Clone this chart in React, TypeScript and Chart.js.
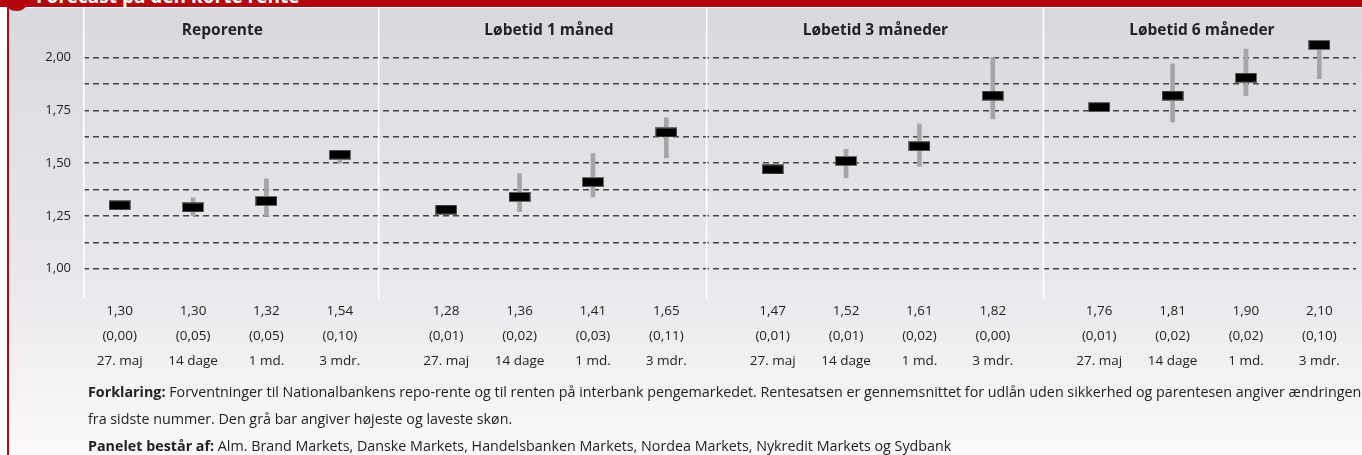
import React, { useEffect, useRef } from "react";
import { Chart, registerables } from "chart.js";

Chart.register(...registerables);

// ---------- data ----------
const PANELS = ["Reporente", "Løbetid 1 måned", "Løbetid 3 måneder", "Løbetid 6 måneder"];
const HORIZONS = ["27. maj", "14 dage", "1 md.", "3 mdr."];
const FORECAST_LABELS = [
  "1,30", "1,30", "1,32", "1,54",
  "1,28", "1,36", "1,41", "1,65",
  "1,47", "1,52", "1,61", "1,82",
  "1,76", "1,81", "1,90", "2,10",
];
const CHANGE_LABELS = [
  "(0,00)", "(0,05)", "(0,05)", "(0,10)",
  "(0,01)", "(0,02)", "(0,03)", "(0,11)",
  "(0,01)", "(0,01)", "(0,02)", "(0,00)",
  "(0,01)", "(0,02)", "(0,02)", "(0,10)",
];
// black marker (panel forecast)
const FORECAST = [
  1.30, 1.29, 1.32, 1.54,
  1.28, 1.34, 1.41, 1.645,
  1.47, 1.51, 1.58, 1.82,
  1.765, 1.82, 1.905, 2.06,
];
// grey bar: lowest and highest estimate
const LOWEST = [
  1.30, 1.25, 1.25, 1.50,
  1.28, 1.27, 1.34, 1.525,
  1.47, 1.43, 1.485, 1.71,
  1.765, 1.695, 1.82, 1.90,
];
const HIGHEST = [
  1.30, 1.335, 1.425, 1.55,
  1.28, 1.45, 1.545, 1.715,
  1.47, 1.565, 1.685, 2.00,
  1.765, 1.97, 2.04, 2.065,
];
const Y_TICKS = [1.0, 1.125, 1.25, 1.375, 1.5, 1.625, 1.75, 1.875, 2.0];

// ---------- layout ----------
const W = 1362;
const H = 455;
const PANEL_STEP = 4.45; // slot units between panels
const SEP_SHIFT = [0, 0.92, 0.9, 0.76]; // separator position before each panel (slot units)
const RED = "#b3060f";
const FONT = "'Open Sans', 'DejaVu Sans', sans-serif";

const slot = (k: number) => Math.floor(k / 4) * PANEL_STEP + (k % 4);

function makeMarker(): HTMLCanvasElement {
  const c = document.createElement("canvas");
  c.width = 22;
  c.height = 10;
  const g = c.getContext("2d")!;
  g.fillStyle = "#6a6a6a";
  g.fillRect(0, 0, 22, 10);
  g.fillStyle = "#000000";
  g.fillRect(1, 1, 20, 8);
  return c;
}

const panelPlugin = {
  id: "panelDecor",
  beforeDatasetsDraw(chart: any) {
    const { ctx, chartArea, scales } = chart;
    const x = scales.x;
    ctx.save();
    ctx.strokeStyle = "#ffffff";
    ctx.lineWidth = 1.6;
    const seps = [chartArea.left + 0.8];
    for (let g = 1; g < PANELS.length; g++) seps.push(x.getPixelForValue(g * PANEL_STEP - SEP_SHIFT[g]));
    seps.forEach((px) => {
      ctx.beginPath();
      ctx.moveTo(px, chartArea.top);
      ctx.lineTo(px, chartArea.bottom + 6);
      ctx.stroke();
    });
    ctx.fillStyle = "#222222";
    ctx.font = `bold 15.5px ${FONT}`;
    ctx.textAlign = "center";
    ctx.textBaseline = "middle";
    PANELS.forEach((t, g) => {
      ctx.fillText(t, x.getPixelForValue(g * PANEL_STEP + 1.4), chartArea.top + 23);
    });
    ctx.restore();
  },
};

export default function App() {
  const ref = useRef<HTMLCanvasElement | null>(null);

  useEffect(() => {
    if (!ref.current) return;
    const xs = FORECAST.map((_, k) => slot(k));
    const marker = makeMarker();
    const chart = new Chart(ref.current, {
      type: "bar",
      data: {
        datasets: [
          {
            type: "line",
            label: "Gennemsnit",
            data: xs.map((x, k) => ({ x, y: FORECAST[k] })),
            showLine: false,
            pointStyle: marker as any,
            pointRadius: 5,
            pointHoverRadius: 5,
            order: 0,
          } as any,
          {
            type: "bar",
            label: "Højeste og laveste skøn",
            data: xs.map((x, k) => ({ x, y: [LOWEST[k], HIGHEST[k]] })),
            backgroundColor: "#a5a5a5",
            barThickness: 4,
            order: 1,
          } as any,
        ],
      },
      options: {
        animation: false,
        responsive: true,
        maintainAspectRatio: false,
        events: [],
        layout: { padding: { top: 8, right: 0, bottom: 0, left: 0 } },
        plugins: { legend: { display: false }, tooltip: { enabled: false } },
        scales: {
          x: {
            type: "linear",
            offset: false,
            min: -0.5,
            max: (PANELS.length - 1) * PANEL_STEP + 3.5,
            afterBuildTicks: (s: any) => {
              s.ticks = xs.map((v) => ({ value: v }));
            },
            afterFit: (s: any) => {
              s.height = 163;
              s.paddingLeft = 0;
              s.paddingRight = 0;
            },
            grid: { display: false, drawTicks: false, offset: false },
            border: { display: false },
            ticks: {
              autoSkip: false,
              maxRotation: 0,
              minRotation: 0,
              padding: 6.5,
              color: "#222222",
              font: { family: FONT, size: 13.5, lineHeight: "25px" },
              callback: (_v: any, i: number) => [FORECAST_LABELS[i], CHANGE_LABELS[i], HORIZONS[i % 4]],
            },
          },
          y: {
            min: 0.889,
            max: 2.235,
            afterBuildTicks: (s: any) => {
              s.ticks = Y_TICKS.map((v) => ({ value: v }));
            },
            afterFit: (s: any) => {
              s.width = 83;
              s.paddingTop = 0;
              s.paddingBottom = 0;
            },
            grid: { color: "#444444", lineWidth: 1.4, drawTicks: false },
            border: { display: false, dash: [6, 4] },
            ticks: {
              padding: 12,
              color: "#222222",
              font: { family: FONT, size: 13 },
              callback: (v: any) => {
                const n = Number(v);
                return Math.abs(n * 4 - Math.round(n * 4)) < 1e-6 ? n.toFixed(2).replace(".", ",") : "";
              },
            },
          },
        },
      } as any,
      plugins: [panelPlugin],
    });
    return () => chart.destroy();
  }, []);

  return (
    <div
      style={{
        position: "absolute",
        left: 0,
        top: 0,
        width: W,
        height: H,
        overflow: "hidden",
        background: "#ffffff",
        fontFamily: FONT,
      }}
    >
      <div
        style={{
          position: "absolute",
          left: 9,
          top: 8,
          width: W - 9,
          height: H - 8,
          background: "linear-gradient(to bottom, #d8d9de 0%, #e8e8ec 60%, #fafafb 100%)",
        }}
      />
      <div style={{ position: "absolute", left: 7, top: 7, width: 2, height: H - 7, background: RED }} />
      <div
        style={{
          position: "absolute",
          left: 0,
          top: 0,
          width: W,
          height: 7,
          background: RED,
          overflow: "hidden",
        }}
      >
        <div
          style={{
            position: "absolute",
            left: 36,
            top: -13,
            color: "#ffffff",
            fontWeight: 700,
            fontSize: 19,
            lineHeight: "19px",
            whiteSpace: "nowrap",
          }}
        >
          Forecast på den korte rente
        </div>
      </div>
      <div
        style={{
          position: "absolute",
          left: 4,
          top: -13,
          width: 25,
          height: 24,
          borderRadius: "50%",
          background: RED,
        }}
      />
      <div style={{ position: "absolute", left: 0, top: 0, width: W, height: H }}>
        <canvas ref={ref} />
      </div>
      <div
        style={{
          position: "absolute",
          left: 88,
          top: 378,
          fontSize: 14.3,
          lineHeight: "27px",
          color: "#222222",
          whiteSpace: "nowrap",
        }}
      >
        <div>
          <b>Forklaring:</b> Forventninger til Nationalbankens repo-rente og til renten på interbank pengemarkedet. Rentesatsen er gennemsnittet for udlån uden sikkerhed og parentesen angiver ændringen
        </div>
        <div>fra sidste nummer. Den grå bar angiver højeste og laveste skøn.</div>
        <div>
          <b>Panelet består af:</b> Alm. Brand Markets, Danske Markets, Handelsbanken Markets, Nordea Markets, Nykredit Markets og Sydbank
        </div>
      </div>
    </div>
  );
}
